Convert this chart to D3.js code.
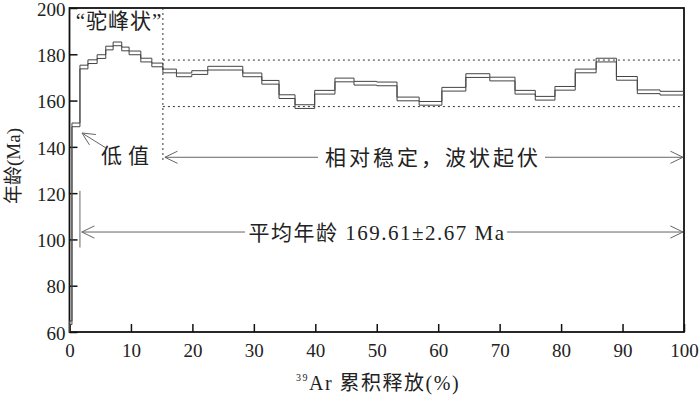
<!DOCTYPE html>
<html>
<head>
<meta charset="utf-8">
<script src="https://cdn.jsdelivr.net/npm/d3@7"></script>
<style>
  body { margin: 0; background: #fff; }
  svg text { font-family: "Liberation Serif", "Noto Sans CJK SC", serif; }
</style>
</head>
<body>
<svg id="chart" width="700" height="399"></svg>
<script>
// cumulative 39Ar release (%) at the end of each step, and step age (Ma)
const stepEnd = [0.4, 1.7, 3.0, 4.5, 5.9, 7.1, 8.5, 9.7, 11.6, 13.4, 15.2,
  17.4, 19.9, 22.5, 25.5, 28.2, 31.3, 34.1, 36.7, 39.9, 43.2, 46.3, 50.0,
  53.3, 56.9, 60.6, 64.5, 68.4, 72.5, 75.8, 79.0, 82.3, 85.7, 89.0, 92.4, 96.1, 100];
const stepAge = [64.0, 149.5, 174.5, 176.8, 179.0, 182.7, 184.5, 182.3, 180.6, 177.5, 175.4,
  172.8, 171.1, 172.1, 174.0, 174.0, 171.1, 167.9, 161.7, 157.4, 163.6, 168.9, 167.5,
  167.2, 160.7, 158.8, 164.9, 170.8, 169.3, 163.6, 161.0, 165.3, 172.8, 177.5, 169.6, 163.8, 163.2];
const stepErr = 0.8;

const xTicks = [0, 10, 20, 30, 40, 50, 60, 70, 80, 90, 100];
const yTicks = [60, 80, 100, 120, 140, 160, 180, 200];

const bandTop = 177.5, bandBottom = 157.4, bandStart = 15.2;

const svg = d3.select('#chart');
const mLeft = 69.5, mRight = 684, mTop = 8, mBottom = 332;

const x = d3.scaleLinear().domain([0, 100]).range([mLeft, mRight]);
const y = d3.scaleLinear().domain([60, 200]).range([mBottom, mTop]);

// axes: ticks pointing inward
svg.append('g')
  .attr('transform', `translate(0,${mBottom})`)
  .call(d3.axisBottom(x).tickValues(xTicks).tickSizeInner(-8).tickSizeOuter(0).tickPadding(12))
  .call(g => g.select('.domain').remove())
  .call(g => g.selectAll('line').attr('stroke', '#111').attr('stroke-width', 1.5))
  .call(g => g.selectAll('text').attr('font-size', 19).attr('fill', '#222'));

svg.append('g')
  .attr('transform', `translate(${mLeft},0)`)
  .call(d3.axisLeft(y).tickValues(yTicks).tickSizeInner(-8).tickSizeOuter(0).tickPadding(4))
  .call(g => g.select('.domain').remove())
  .call(g => g.selectAll('line').attr('stroke', '#111').attr('stroke-width', 1.5))
  .call(g => g.selectAll('text').attr('font-size', 19).attr('fill', '#222').attr('dy', '0.38em'));

// frame
svg.append('rect')
  .attr('x', mLeft).attr('y', mTop)
  .attr('width', mRight - mLeft).attr('height', mBottom - mTop)
  .attr('fill', 'none').attr('stroke', '#111').attr('stroke-width', 1.8);

// dotted guide lines
const dotted = svg.append('g')
  .attr('stroke', '#333').attr('stroke-width', 1).attr('stroke-dasharray', '2,3');
[bandTop, bandBottom].forEach(v => {
  dotted.append('line')
    .attr('x1', x(bandStart)).attr('x2', mRight)
    .attr('y1', y(v)).attr('y2', y(v));
});
dotted.append('line')
  .attr('x1', x(bandStart)).attr('x2', x(bandStart))
  .attr('y1', mTop).attr('y2', y(134));

// age spectrum: upper and lower envelope as step lines
const pts = sign => {
  const out = [[0, 60]];
  stepEnd.forEach((e, i) => {
    const s = i === 0 ? 0 : stepEnd[i - 1];
    out.push([s, stepAge[i] + sign * stepErr]);
    out.push([e, stepAge[i] + sign * stepErr]);
  });
  return out;
};
const line = d3.line().x(d => x(d[0])).y(d => y(d[1]));
[1, -1].forEach(sign => {
  svg.append('path')
    .attr('d', line(pts(sign)))
    .attr('fill', 'none')
    .attr('stroke', '#444')
    .attr('stroke-width', 1);
});

// annotations
const ann = svg.append('g').attr('stroke', '#666').attr('stroke-width', 1).attr('fill', 'none');

function arrowHead(px, py, ang) {
  const l = 14, w = 0.45;
  ann.append('path')
    .attr('d', `M${px + l * Math.cos(ang - w)},${py + l * Math.sin(ang - w)}L${px},${py}L${px + l * Math.cos(ang + w)},${py + l * Math.sin(ang + w)}`);
}

// "低值"
ann.append('line').attr('x1', 106).attr('y1', 148).attr('x2', 82).attr('y2', 133);
arrowHead(82, 133, Math.atan2(15, 24));

// plateau-like segment
const yMid = y(135.5);
ann.append('line').attr('x1', x(bandStart) + 2).attr('x2', 318).attr('y1', yMid).attr('y2', yMid);
ann.append('line').attr('x1', 545).attr('x2', mRight - 1).attr('y1', yMid).attr('y2', yMid);
arrowHead(x(bandStart) + 2, yMid, 0);
arrowHead(mRight - 1, yMid, Math.PI);

// average age
const yAvg = y(103.2);
ann.append('line').attr('x1', x(1.7)).attr('x2', x(1.7)).attr('y1', y(121)).attr('y2', y(96.5));
ann.append('line').attr('x1', x(2)).attr('x2', 245).attr('y1', yAvg).attr('y2', yAvg);
ann.append('line').attr('x1', 507).attr('x2', mRight - 1).attr('y1', yAvg).attr('y2', yAvg);
arrowHead(x(2), yAvg, 0);
arrowHead(mRight - 1, yAvg, Math.PI);

const txt = svg.append('g').attr('fill', '#222').attr('font-size', 21);
txt.append('text').attr('x', 119).attr('y', 28).attr('text-anchor', 'middle')
  .attr('letter-spacing', 1).text('“驼峰状”');
txt.append('text').attr('x', 128).attr('y', 163).attr('text-anchor', 'middle')
  .attr('letter-spacing', 6).text('低值');
txt.append('text').attr('x', 433).attr('y', yMid + 8).attr('text-anchor', 'middle')
  .attr('letter-spacing', 3).text('相对稳定，波状起伏');
txt.append('text').attr('x', 377).attr('y', yAvg + 8).attr('text-anchor', 'middle')
  .attr('letter-spacing', 1.5).text('平均年龄 169.61±2.67 Ma');

// axis titles
const xt = svg.append('text')
  .attr('x', 378).attr('y', 390).attr('text-anchor', 'middle')
  .attr('font-size', 20).attr('fill', '#222').attr('letter-spacing', 1.5);
xt.append('tspan').attr('font-size', 10).attr('dy', -9).text('39');
xt.append('tspan').attr('dy', 9).text('Ar 累积释放(%)');

svg.append('text')
  .attr('transform', 'translate(20,166) rotate(-90)')
  .attr('text-anchor', 'middle')
  .attr('font-size', 19).attr('fill', '#222')
  .text('年龄(Ma)');
</script>
</body>
</html>
